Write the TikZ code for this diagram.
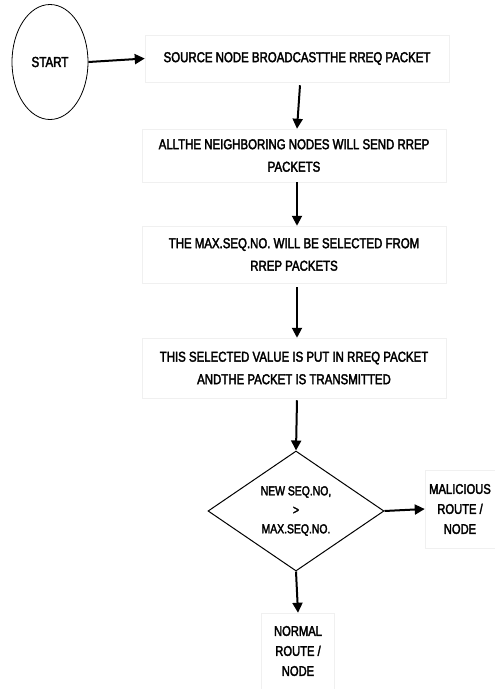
\documentclass[tikz,border=0pt]{standalone}
\usepackage{fontspec}
\setmainfont{Liberation Sans}
\newfontfamily\narrowfont[FakeStretch=0.8,FakeBold=2.5]{Liberation Sans}
\usetikzlibrary{shapes.geometric,arrows.meta}
\begin{document}
\begin{tikzpicture}[x=1pt,y=-1pt,
  txt/.style={font=\narrowfont\fontsize{14.3}{22.5}\selectfont,align=center,inner sep=0pt},
  procbox/.style={txt,draw=black!6,minimum width=304pt,line width=0.5pt},
  smallbox/.style={txt,draw=black!6,font=\narrowfont\fontsize{14}{20}\selectfont,line width=0.5pt},
  flow/.style={line width=2pt,-{Triangle[width=10pt,length=10pt]}}]
\useasboundingbox (0,0) rectangle (495,689);
\node[ellipse,draw,line width=0.8pt,minimum width=76pt,minimum height=115pt,txt,font=\narrowfont\fontsize{14.5}{16}\selectfont] (start) at (50,62) {START};
\node[procbox,minimum height=47pt] (b1) at (297,58.5) {SOURCE NODE BROADCASTTHE RREQ PACKET};
\node[procbox,minimum height=53pt] (b2) at (294,155.5) {ALLTHE NEIGHBORING NODES WILL SEND RREP\\PACKETS};
\node[procbox,minimum height=57pt] (b3) at (294,254.5) {THE MAX.SEQ.NO. WILL BE SELECTED FROM\\RREP PACKETS};
\node[procbox,minimum height=60pt] (b4) at (294,368) {THIS SELECTED VALUE IS PUT IN RREQ PACKET\\ANDTHE PACKET IS TRANSMITTED};
\node[diamond,draw,line width=1pt,txt,font=\narrowfont\fontsize{13}{19}\selectfont,minimum width=176pt,minimum height=112pt] (d) at (296,511) {NEW SEQ.NO,\\>\\MAX.SEQ.NO.};
\node[smallbox,minimum width=70pt,minimum height=78pt] (m) at (460,509) {MALICIOUS\\ROUTE /\\NODE};
\node[smallbox,minimum width=73pt,minimum height=76pt] (n) at (298,651) {NORMAL\\ROUTE /\\NODE};
\draw[flow] (start.east) -- (b1.west);
\draw[flow] ([xshift=3pt,yshift=-3pt]b1.south) -- ([xshift=3pt]b2.north);
\draw[flow] ([xshift=3pt]b2.south) -- ([xshift=3pt]b3.north);
\draw[flow] ([xshift=3pt,yshift=-4pt]b3.south) -- ([xshift=3pt]b4.north);
\draw[flow] ([xshift=3pt,yshift=-2pt]b4.south) -- (d.north);
\draw[flow] (d.east) -- (m.west);
\draw[flow] (d.south) -- (n.north);
\end{tikzpicture}
\end{document}
